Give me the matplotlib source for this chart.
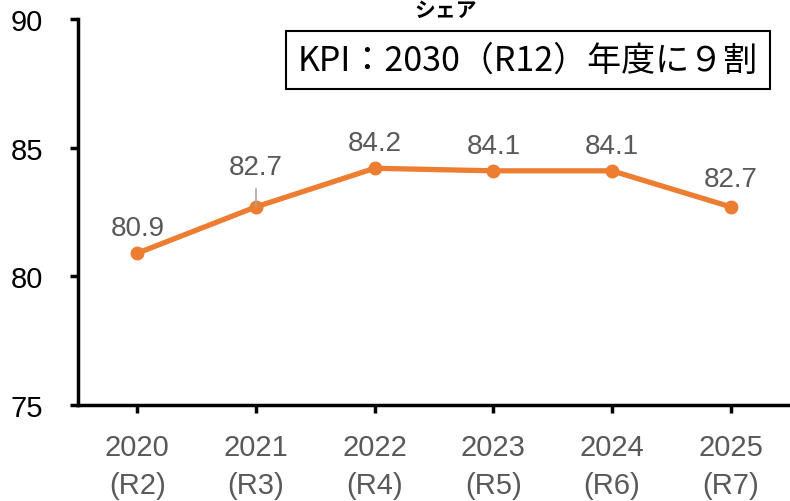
import matplotlib.pyplot as plt

plt.rcParams['font.family'] = ['Liberation Sans', 'Noto Sans CJK JP', 'DejaVu Sans']

years = ['2020\n(R2)', '2021\n(R3)', '2022\n(R4)', '2023\n(R5)', '2024\n(R6)', '2025\n(R7)']
share = [80.9, 82.7, 84.2, 84.1, 84.1, 82.7]
yticks = [75, 80, 85, 90]

fig = plt.figure(figsize=(7.9, 5.02), dpi=100)
ax = fig.add_axes([78 / 790, 1 - 406 / 502, 1 - 78 / 790, (406 - 20) / 502])

x = list(range(len(share)))
ax.plot(x, share, color='#ED7D31', linewidth=3.8, marker='o', markersize=9, clip_on=False, zorder=3)

# データラベル
offsets = [18, 29, 18, 18, 18, 20]
for i, v in enumerate(share):
    ax.annotate(f'{v:.1f}', (i, v), xytext=(0, offsets[i]), textcoords='offset points',
                ha='center', va='center', fontsize=20, color='#595959')
# 2021 の引き出し線
ax.annotate('', (1, share[1]), xytext=(0, 13), textcoords='offset points',
            arrowprops=dict(arrowstyle='-', color='#A6A6A6', lw=1.2, shrinkA=0, shrinkB=0))

ax.set_xlim(-0.5, 5.5)
ax.set_ylim(75, 90)
ax.set_yticks(yticks)
ax.set_xticks(x)
ax.set_xticklabels(years, color='#595959', fontsize=21, linespacing=1.45)
ax.tick_params(axis='y', labelsize=21, width=2.5, length=6, pad=19)
ax.tick_params(axis='x', width=2.5, length=6, pad=14)
for s in ['top', 'right']:
    ax.spines[s].set_visible(False)
for s in ['left', 'bottom']:
    ax.spines[s].set_linewidth(2.5)

fig.text(446 / 790, 1.0, 'シェア', ha='center', va='top', fontsize=15,
         fontweight='bold', family=['Noto Sans CJK JP'])
fig.text(528 / 790, 1 - 61 / 502, 'KPI：2030（R12）年度に９割', ha='center', va='center',
         fontsize=24.5, family=['Noto Sans CJK JP'],
         bbox=dict(boxstyle='square,pad=0.35', facecolor='white', edgecolor='black', linewidth=1.5))

fig.savefig('out.png', dpi=100)
